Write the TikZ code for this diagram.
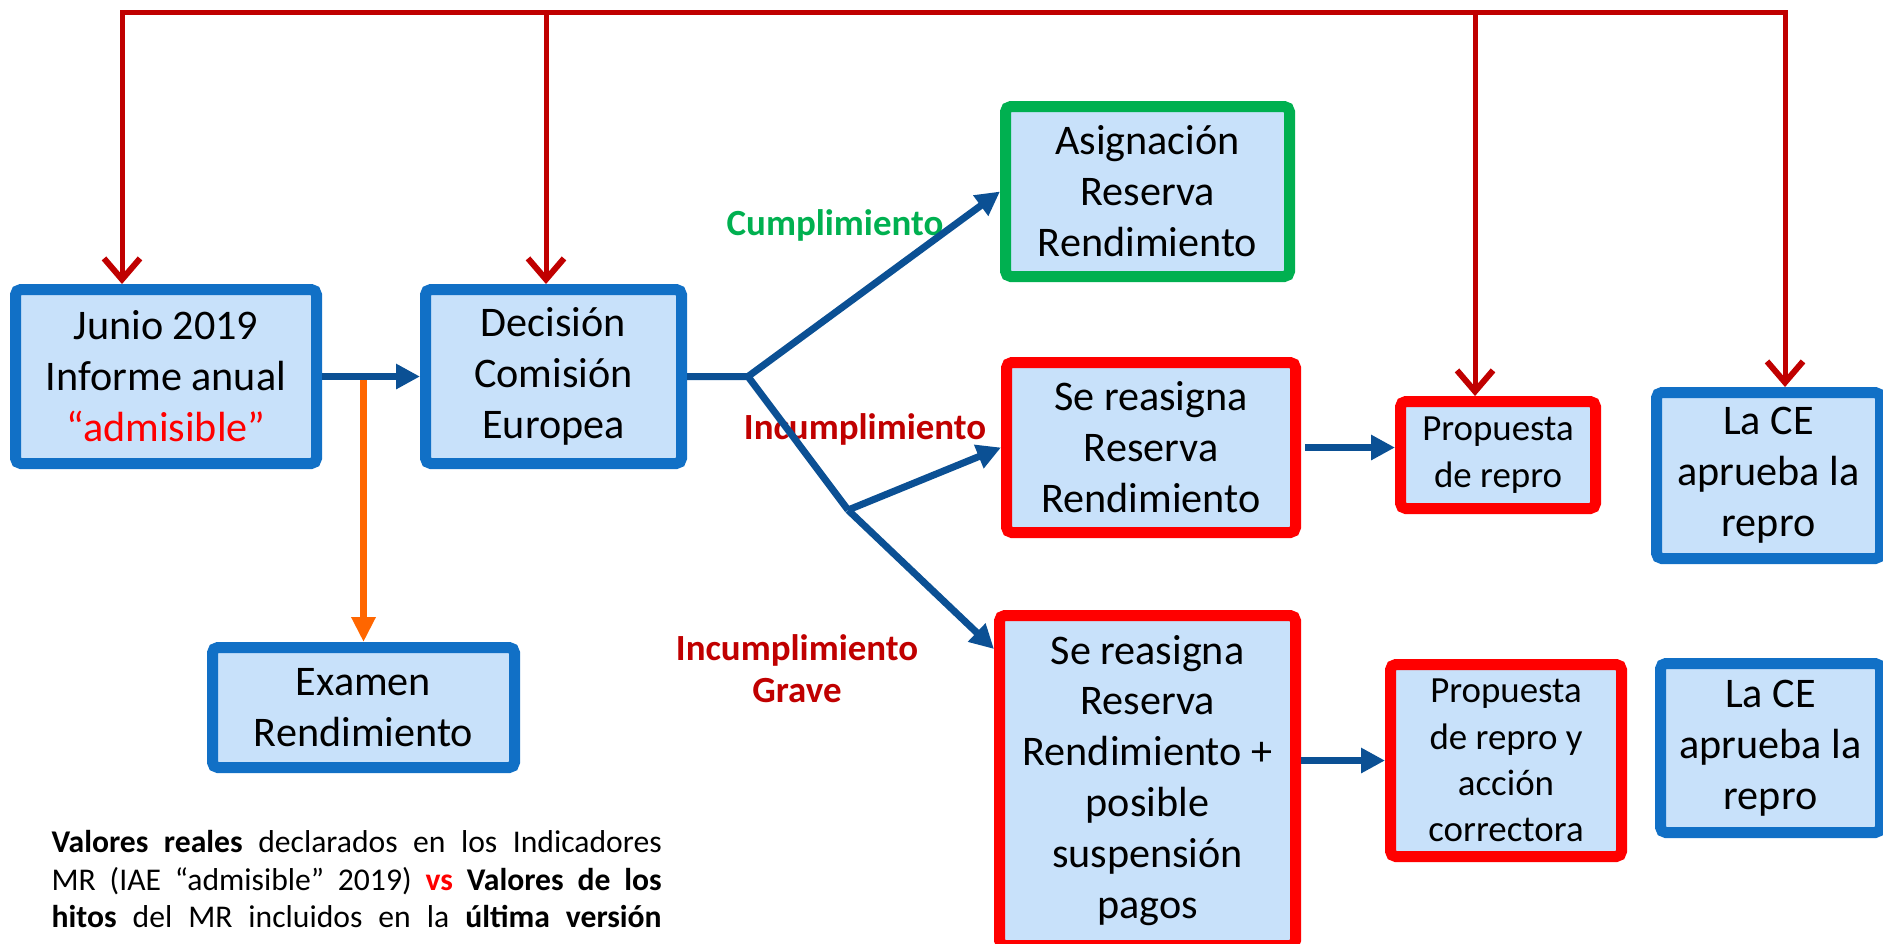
\documentclass[tikz,border=0pt]{standalone}
\usepackage{fontspec}
\setmainfont{Carlito}
\usepackage{xcolor}
\usepackage{tikz}
\usetikzlibrary{arrows.meta}
\definecolor{boxfill}{RGB}{200,225,250}
\definecolor{boxblue}{RGB}{17,112,198}
\definecolor{boxred}{RGB}{255,0,0}
\definecolor{boxgreen}{RGB}{0,176,80}
\definecolor{flowblue}{RGB}{11,80,148}
\definecolor{feedred}{RGB}{192,0,0}
\definecolor{examorange}{RGB}{255,102,0}
\tikzstyle{bluebox} = [rectangle, rounded corners=1.5pt, inner sep=0pt, align=center, draw=boxblue, fill=boxfill, line width=0.11cm, font=\fontsize{12}{14.5}\selectfont]
\tikzstyle{redbox} = [bluebox, draw=boxred]
\tikzstyle{greenbox} = [bluebox, draw=boxgreen]
\tikzstyle{smalltext} = [font=\fontsize{10.5}{13.2}\selectfont]
\tikzstyle{verdict} = [inner sep=0pt, align=center, font=\fontsize{10.5}{12}\selectfont\bfseries]
\tikzstyle{branch} = [line width=0.07cm, draw=flowblue]
\tikzstyle{arrow} = [branch, -{Triangle[length=2.4mm,width=2.4mm]}]
\tikzstyle{examarrow} = [line width=0.07cm, draw=examorange, -{Triangle[length=2.5mm,width=2.3mm]}]
\tikzstyle{feedline} = [line width=0.05cm, draw=feedred]
\tikzstyle{feed} = [feedline, -{Straight Barb[length=2.1mm,width=3.6mm,line width=0.06cm]}]

\begin{document}
\begin{tikzpicture}
	\useasboundingbox (0,0) rectangle (18.83,-9.43);
	\node (junio) [bluebox, minimum width=3.01cm, minimum height=1.74cm] at (1.66,-3.765) {Junio 2019\\Informe anual\\\textcolor{boxred}{“admisible”}};
	\node (decision) [bluebox, minimum width=2.56cm, minimum height=1.74cm] at (5.535,-3.765) {Decisión\\Comisión\\Europea};
	\node (examen) [bluebox, minimum width=3.02cm, minimum height=1.20cm] at (3.635,-7.075) {Examen\\Rendimiento};
	\node (asig) [greenbox, minimum width=2.84cm, minimum height=1.70cm] at (11.475,-1.915) {Asignación\\Reserva\\Rendimiento};
	\node (reas1) [redbox, minimum width=2.89cm, minimum height=1.70cm] at (11.51,-4.475) {Se reasigna\\Reserva\\Rendimiento};
	\node (prop1) [redbox, smalltext, minimum width=1.95cm, minimum height=1.07cm] at (14.98,-4.55) {Propuesta\\de repro};
	\node (lace1) [bluebox, minimum width=2.24cm, minimum height=1.66cm] at (17.685,-4.755) {La CE\\aprueba la\\repro};
	\node (reas2) [redbox, minimum width=2.96cm, minimum height=3.30cm] at (11.475,-7.805) {Se reasigna\\Reserva\\Rendimiento +\\posible\\suspensión\\pagos};
	\node (prop2) [redbox, smalltext, minimum width=2.31cm, minimum height=1.92cm] at (15.06,-7.605) {Propuesta\\de repro y\\acción\\correctora};
	\node (lace2) [bluebox, minimum width=2.20cm, minimum height=1.69cm] at (17.705,-7.48) {La CE\\aprueba la\\repro};

	\node (cumple) [verdict, text=boxgreen] at (8.35,-2.25) {Cumplimiento};
	\node (incumple) [verdict, text=feedred] at (8.65,-4.29) {Incumplimiento};
	\node (grave) [verdict, text=feedred] at (7.97,-6.69) {Incumplimiento\\Grave};

	\node (nota) [anchor=north west, inner sep=0pt, align=left, font=\fontsize{9}{10.6}\selectfont] at (0.51,-8.30) {\makebox[6.1cm][s]{\textbf{Valores reales} declarados en los Indicadores}\\\makebox[6.1cm][s]{MR (IAE “admisible” 2019) \textcolor{boxred}{\textbf{vs}} \textbf{Valores de los}}\\\makebox[6.1cm][s]{\textbf{hitos} del MR incluidos en la \textbf{última versión}}};

	\coordinate (j1) at (7.48,-3.765);
	\coordinate (j2) at (8.48,-5.10);
	\coordinate (b1) at (1.22,-0.12);
	\coordinate (b2) at (5.46,-0.12);
	\coordinate (b3) at (14.75,-0.12);
	\coordinate (b4) at (17.85,-0.12);

	\draw [examarrow] (examen.north |- junio.east) -- (examen.north);
	\draw [arrow] (junio) -- (decision);
	\draw [branch] (decision.east) -- (j1) -- (j2);
	\draw [arrow] (j1) -- (asig.west);
	\draw [arrow] (j2) -- (reas1.west);
	\draw [arrow] (j2) -- ([yshift=-3.9mm]reas2.north west);
	\draw [arrow, shorten <=0.4mm] (reas1.east) -- (reas1.east -| prop1.west);
	\draw [arrow] (prop2.west -| reas2.east) -- (prop2.west);

	\draw [feedline, line cap=rect] (b1) -- (b4);
	\foreach \busx/\target in {b1/junio, b2/decision, b3/prop1, b4/lace1}
		\draw [feed] (\busx) -- (\busx |- \target.north);
\end{tikzpicture}
\end{document}
